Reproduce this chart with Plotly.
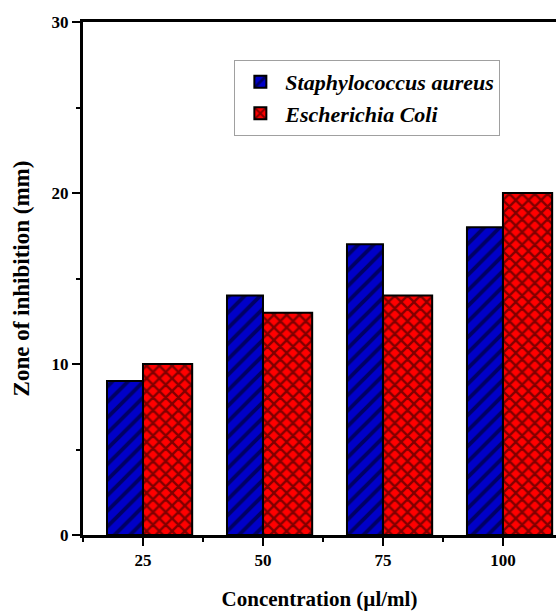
import plotly.graph_objects as go

# Zone of inhibition by concentration for two bacteria
concentrations = ["25", "50", "75", "100"]
staph_aureus = [9, 14, 17, 18]
e_coli = [10, 13, 14, 20]

positions = list(range(1, len(concentrations) + 1))
serif = "Liberation Serif, Times New Roman, DejaVu Serif, serif"

fig = go.Figure()
fig.add_trace(go.Bar(
    x=positions, y=staph_aureus,
    name="<b><i>Staphylococcus aureus</i></b>",
    offset=-0.3, width=0.3,
    marker=dict(
        color="#0000c8",
        line=dict(color="black", width=2),
        pattern=dict(shape="/", fgcolor="black", bgcolor="#0000c8",
                     size=11, solidity=0.35, fillmode="overlay"),
    ),
))
fig.add_trace(go.Bar(
    x=positions, y=e_coli,
    name="<b><i>Escherichia Coli</i></b>",
    offset=0, width=0.41,
    marker=dict(
        color="#ff0000",
        line=dict(color="black", width=2),
        pattern=dict(shape="x", fgcolor="black", bgcolor="#ff0000",
                     size=9, solidity=0.45, fillmode="overlay"),
    ),
))

fig.update_layout(
    width=556, height=614,
    margin=dict(l=83, r=0, t=22, b=79),
    paper_bgcolor="white", plot_bgcolor="white",
    barmode="overlay",
    font=dict(family=serif, color="black"),
    showlegend=True,
    legend=dict(
        x=0.32, y=0.926, xanchor="left", yanchor="top",
        bgcolor="white", bordercolor="#a0a0a0", borderwidth=1,
        font=dict(family=serif, size=22, color="black"),
        itemwidth=40, tracegroupgap=2,
    ),
)

fig.update_xaxes(
    range=[0.5, 4.442],
    tickvals=positions, ticktext=[f"<b>{c}</b>" for c in concentrations],
    ticks="outside", ticklen=8, tickwidth=2, tickcolor="black",
    minor=dict(tickvals=[0.5, 1.5, 2.5, 3.5, 4.5], ticks="outside",
               ticklen=4, tickwidth=2, tickcolor="black"),
    showline=True, linewidth=3, linecolor="black", mirror=True,
    showgrid=False, zeroline=False,
    tickfont=dict(family=serif, size=17),
    title=dict(text="<b>Concentration (µl/ml)</b>",
               font=dict(family=serif, size=21), standoff=22),
)
fig.update_yaxes(
    range=[0, 30],
    tickvals=[0, 10, 20, 30], ticktext=["<b>0</b>", "<b>10</b>", "<b>20</b>", "<b>30</b>"],
    ticks="outside", ticklen=8, tickwidth=2, tickcolor="black",
    minor=dict(tickvals=[5, 15, 25], ticks="outside",
               ticklen=4, tickwidth=2, tickcolor="black"),
    showline=True, linewidth=3, linecolor="black", mirror=False,
    showgrid=False, zeroline=False,
    tickfont=dict(family=serif, size=17),
    title=dict(text="<b>Zone of inhibition (mm)</b>",
               font=dict(family=serif, size=23), standoff=16),
)

fig.write_html("out.html")
